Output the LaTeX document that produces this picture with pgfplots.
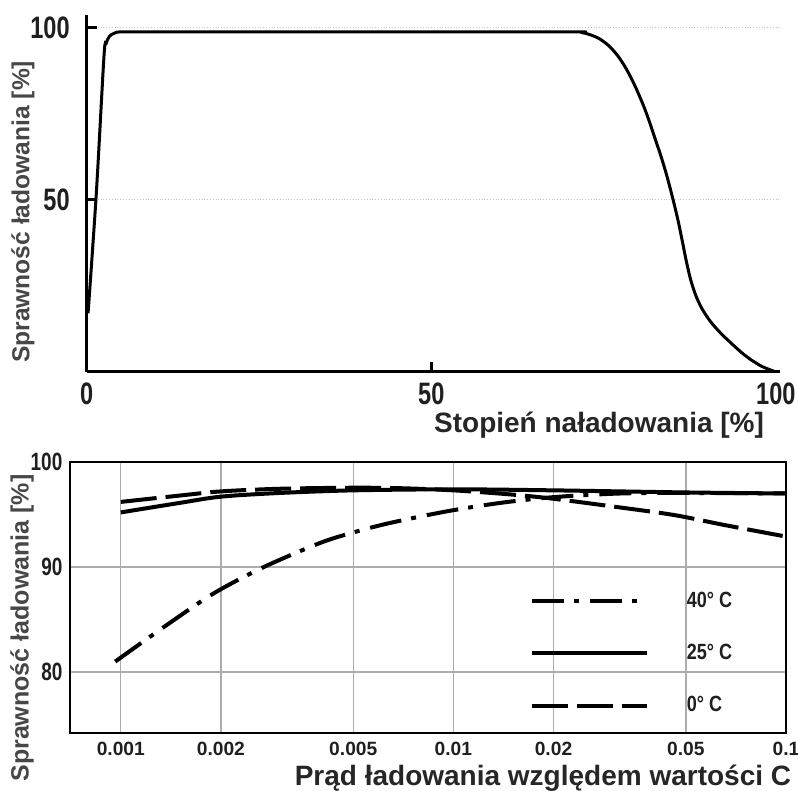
\documentclass[border=0pt]{standalone}
\usepackage{pgfplots}
\pgfplotsset{compat=1.18}
\usepackage{fontspec}
\setmainfont{Liberation Sans}
\newfontfamily\condA[FakeStretch=0.76]{Liberation Sans}
\newfontfamily\condB[FakeStretch=0.82]{Liberation Sans}
\begin{document}
\begin{tikzpicture}
\path[use as bounding box] (0,0) rectangle (399pt,395.5pt);
% ---------------- top chart ----------------
\begin{axis}[
  scale only axis, width=346.65pt, height=178.35pt,
  at={(43.35pt,209.65pt)}, anchor=south west,
  xmin=0, xmax=100.6, ymin=0, ymax=103.7,
  axis x line=bottom, axis y line=left,
  axis line style={-, line width=1.5pt, black},
  xtick={50}, ytick={50,100},
  extra x ticks={0,100}, extra x tick style={major tick length=0pt, grid=none},
  tick align=inside, major tick length=5pt,
  tick style={line width=1.3pt, black},
  ymajorgrids, grid style={densely dotted, gray!45, line width=0.5pt},
  /pgf/number format/assume math mode=true,
  ticklabel style={font=\fontsize{15.5}{15.5}\selectfont\condA\bfseries, text=black!88},
  xticklabel style={inner sep=0pt, yshift=-5.4pt},
  yticklabel style={inner sep=0pt, xshift=-8.3pt},
  xlabel={Stopień naładowania [\%]},
  ylabel={Sprawność ładowania [\%]},
  xlabel style={at={(axis description cs:0.739,-0.149)}, anchor=center,
    font=\fontsize{14}{14}\selectfont\bfseries, text=black!85},
  ylabel style={at={(axis description cs:-0.0919,0.448)}, anchor=center, rotate=0,
    font=\fontsize{12.3}{12.3}\selectfont\bfseries, text=black!72},
  clip=false,
]
\addplot[black, line width=1.5pt, smooth, tension=0.5] coordinates {
  (0.2,17) (1.4,52) (2.5,91.5) (2.8,95.3) (3.3,97.5) (4.0,98.4) (5,98.8) (10,98.8)
  (40,98.8) (70,98.8) (71.8,98.6) (73.0,98.0) (74.3,96.9) (75.5,95.2)
  (76.5,93.2) (77.4,90.9) (78.5,87.3) (79.6,82.9) (80.8,77.3) (81.7,72.4)
  (82.5,67.6) (83.4,62.2) (84.2,56.8) (85.1,49.9) (85.8,44.0) (86.4,38.2)
  (87.0,32.2) (87.6,27.0) (88.3,22.6) (89.2,18.6) (90.5,14.6) (92.0,11.2)
  (93.4,8.5) (95.0,5.6) (96.3,3.6) (98.0,1.5) (99.9,0)
};
\end{axis}
% ---------------- bottom chart ----------------
\begin{axis}[
  scale only axis, width=358pt, height=135.5pt,
  at={(35pt,29pt)}, anchor=south west,
  xmode=log, xmin=7.036e-4, xmax=0.1, ymin=74.2, ymax=100,
  xtick={0.001,0.002,0.005,0.01,0.02,0.05,0.1},
  xticklabels={0.001,0.002,0.005,0.01,0.02,0.05,0.1},
  ytick={80,90,100}, xminorticks=false, yminorticks=false,
  grid=major, major grid style={gray!65, line width=0.7pt},
  major tick length=0pt,
  axis line style={line width=1.3pt, black},
  /pgf/number format/assume math mode=true,
  xticklabel style={inner sep=0pt, yshift=-4.3pt,
    font=\fontsize{9.6}{9.6}\selectfont\bfseries, text=black!88},
  yticklabel style={inner sep=0pt, xshift=-3.6pt,
    font=\fontsize{12.5}{12.5}\selectfont\condA\bfseries, text=black!88},
  xlabel={Prąd ładowania względem wartości C},
  ylabel={Sprawność ładowania [\%]},
  xlabel style={at={(axis description cs:0.6606,-0.166)}, anchor=center,
    font=\fontsize{14}{14}\selectfont\bfseries, text=black!85},
  ylabel style={at={(axis description cs:-0.067,0.387)}, anchor=center,
    font=\fontsize{12.5}{12.5}\selectfont\bfseries, text=black!72},
  legend image code/.code={\draw[#1] (0pt,0pt) -- (57.5pt,0pt);},
  legend cell align=left,
  legend style={draw=none, fill=none, inner sep=0pt,
    at={(rel axis cs:0.6416,0.523)}, anchor=north west,
    row sep=17pt, nodes={inner sep=0pt},
    font=\fontsize{11}{11}\selectfont\condB\bfseries, text=black!88,
    /tikz/every odd column/.append style={column sep=19pt}},
]
\addplot[black, line width=2pt, smooth, dash pattern=on 16pt off 5pt on 2.5pt off 5.5pt] coordinates {
  (0.000962,81.0) (0.001349,84.3) (0.001905,87.5) (0.002692,90.0)
  (0.003981,92.3) (0.005012,93.3) (0.006457,94.2) (0.00955,95.3)
  (0.0138,96.1) (0.01995,96.65) (0.03162,97.0) (0.05012,97.05) (0.1,97.0)
};
\addlegendentry{40° C}
\addplot[black, line width=2pt, smooth] coordinates {
  (0.001,95.2) (0.0015,96.1) (0.002,96.7) (0.003,97.05) (0.005,97.3)
  (0.01,97.4) (0.02,97.3) (0.05,97.1) (0.1,97.0)
};
\addlegendentry{25° C}
\addplot[black, line width=2pt, smooth, dash pattern=on 18pt off 4.5pt] coordinates {
  (0.001,96.2) (0.0015,96.8) (0.002,97.2) (0.003,97.45) (0.005,97.55)
  (0.007,97.5) (0.01,97.3) (0.015,96.9) (0.02,96.5) (0.0312,95.7)
  (0.0461,94.95) (0.0653,94.0) (0.1,92.9)
};
\addlegendentry{0° C}
\end{axis}
\end{tikzpicture}
\end{document}
